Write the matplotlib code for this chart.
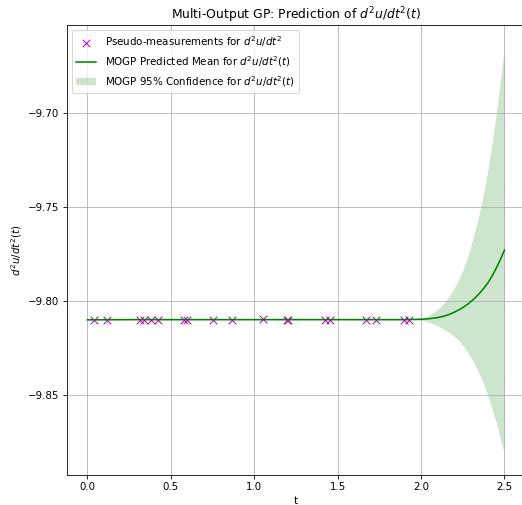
import numpy as np
import matplotlib
matplotlib.use("Agg")
import matplotlib.pyplot as plt

# pseudo-measurements of d2u/dt2
t_obs = [0.04, 0.115, 0.315, 0.34, 0.38, 0.425, 0.58, 0.60, 0.755, 0.865,
         1.05, 1.198, 1.205, 1.425, 1.455, 1.67, 1.73, 1.90, 1.925]
y_obs = [-9.810, -9.810, -9.810, -9.810, -9.810, -9.810, -9.810, -9.810, -9.810, -9.810,
         -9.8095, -9.810, -9.810, -9.810, -9.810, -9.810, -9.810, -9.810, -9.810]

# MOGP prediction on the test grid
t_pred = [0.0, 0.25, 0.5, 0.75, 1.0, 1.25, 1.5, 1.75, 1.9, 1.95,
          2.0, 2.025, 2.05, 2.075, 2.1, 2.125, 2.15, 2.175, 2.2, 2.225, 2.25,
          2.275, 2.3, 2.325, 2.35, 2.375, 2.4, 2.425, 2.45, 2.475, 2.5]
mean_pred = [-9.8101, -9.8100, -9.8100, -9.8100, -9.8100, -9.8100, -9.8100, -9.8100, -9.8100, -9.8099,
             -9.8098, -9.8097, -9.8095, -9.8092, -9.8089, -9.8084, -9.8078, -9.8070, -9.8060, -9.8049, -9.8036,
             -9.8021, -9.8003, -9.7983, -9.7960, -9.7934, -9.7905, -9.7869, -9.7827, -9.7781, -9.7729]
half_width = [0.0002, 0.0002, 0.0002, 0.0002, 0.0002, 0.0002, 0.0002, 0.0002, 0.0003, 0.0004,
              0.0006, 0.0012, 0.0020, 0.0031, 0.0045, 0.0061, 0.0080, 0.0103, 0.0130, 0.0162, 0.0200,
              0.0246, 0.0300, 0.0362, 0.0430, 0.0510, 0.0600, 0.0704, 0.0820, 0.0950, 0.1090]

t_pred = np.array(t_pred)
mean_pred = np.array(mean_pred)
half_width = np.array(half_width)

fig = plt.figure(figsize=(522 / 74, 505 / 74), dpi=74)
ax = fig.add_axes([0.1274, 0.0594, 0.879, 0.8911])

ax.scatter(t_obs, y_obs, marker='x', color='m', s=55, linewidths=1,
           label=r'Pseudo-measurements for $d^2u/dt^2$')
ax.plot(t_pred, mean_pred, color='green', linewidth=1.5,
        label=r'MOGP Predicted Mean for $d^2u/dt^2(t)$')
ax.fill_between(t_pred, mean_pred - half_width, mean_pred + half_width,
                color='green', alpha=0.2, linewidth=0,
                label=r'MOGP 95% Confidence for $d^2u/dt^2(t)$')

ax.set_title(r'Multi-Output GP: Prediction of $d^2u/dt^2(t)$')
ax.set_xlabel('t')
ax.set_ylabel(r'$d^2u/dt^2(t)$')
ax.set_xlim(-0.125, 2.625)
ax.legend(loc='upper left')
ax.grid(True)

fig.savefig('out.png', dpi=74)
